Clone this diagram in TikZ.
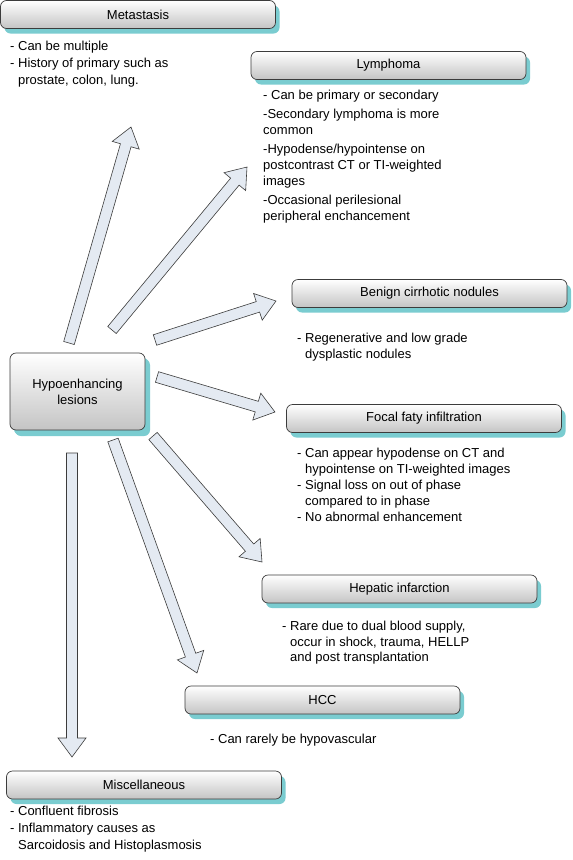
\documentclass[tikz,border=0pt]{standalone}
\usepackage{fontspec}
\setmainfont{Liberation Sans}
\usetikzlibrary{calc,shadows}
\definecolor{shteal}{RGB}{122,204,208}
\definecolor{arrfill}{RGB}{228,234,242}
\definecolor{boxline}{RGB}{60,60,60}
\definecolor{boxbot}{RGB}{196,196,196}
\newcommand{\blockarr}[3]{%
  \coordinate (#1-n) at ($(#3)!19pt!(#2)$);
  \draw[barrow] ($(#2)!5.5pt!90:(#3)$) -- ($(#1-n)!5.5pt!90:(#3)$) -- ($(#1-n)!14pt!90:(#3)$) -- (#3) -- ($(#1-n)!14pt!-90:(#3)$) -- ($(#1-n)!5.5pt!-90:(#3)$) -- ($(#2)!5.5pt!-90:(#3)$) -- cycle;}
\begin{document}
\begin{tikzpicture}[x=1pt,y=-1pt,
  font=\fontsize{13}{16}\selectfont,
  catbox/.style={draw=boxline, line width=0.7pt, rounded corners=6pt,
    top color=white, bottom color=boxbot, minimum width=275pt,
    minimum height=28pt, inner sep=0pt,
    drop shadow={shadow xshift=4pt, shadow yshift=-5pt, fill=shteal, opacity=1}},
  listtext/.style={anchor=north west, inner sep=0pt, align=left},
  barrow/.style={draw=boxline, line width=0.6pt, fill=arrfill, line join=miter}]
\fill[white] (0,0) rectangle (573,860);
\useasboundingbox (0,0) rectangle (573,860);

% central node
\node[catbox, minimum width=135pt, minimum height=77pt, align=center,
  drop shadow={shadow xshift=5pt, shadow yshift=-6pt, fill=shteal, opacity=1}]
  (hypo) at (77.5,391.5) {Hypoenhancing\\lesions};

% category boxes
\node[catbox] (meta) at (138,14.5) {Metastasis};
\node[catbox] (lymph) at (388.5,65.5) {Lymphoma};
\node[catbox] (benign) at (429.5,293.5) {Benign cirrhotic nodules};
\node[catbox] (focal) at (424,418.5) {Focal faty infiltration};
\node[catbox] (hep) at (399.5,589) {Hepatic infarction};
\node[catbox] (hcc) at (322.5,700) {HCC};
\node[catbox] (misc) at (144,785) {Miscellaneous};

% descriptions
\node[listtext, font=\fontsize{13}{16.7}\selectfont] (metat) at (10,41)
  {- Can be multiple\\- History of primary such as\\\phantom{- }prostate, colon, lung.};
\node[listtext] (lympht) at (263,90)
  {- Can be primary or secondary\\[3pt]-Secondary lymphoma is more\\common\\[3pt]-Hypodense/hypointense on\\postcontrast CT or TI-weighted\\images\\[3pt]-Occasional perilesional\\peripheral enchancement};
\node[listtext, font=\fontsize{13}{15.5}\selectfont] (benignt) at (297,333)
  {- Regenerative and low grade\\\phantom{- }dysplastic nodules};
\node[listtext] (focalt) at (297,448)
  {- Can appear hypodense on CT and\\\phantom{- }hypointense on TI-weighted images\\- Signal loss on out of phase\\\phantom{- }compared to in phase\\- No abnormal enhancement};
\node[listtext, font=\fontsize{13}{15.5}\selectfont] (hept) at (282,621)
  {- Rare due to dual blood supply,\\\phantom{- }occur in shock, trauma, HELLP\\\phantom{- }and post transplantation};
\node[listtext] (hcct) at (210,734) {- Can rarely be hypovascular};
\node[listtext, font=\fontsize{13}{17}\selectfont] (misct) at (10,806)
  {- Confluent fibrosis\\- Inflammatory causes as\\\phantom{- }Sarcoidosis and Histoplasmosis};

% arrow ends
\coordinate (t1) at (69,343);  \coordinate (h1) at (131,127);
\coordinate (t2) at (112,330); \coordinate (h2) at (247,167);
\coordinate (t3) at (155,340); \coordinate (h3) at (276,301);
\coordinate (t4) at (157,377); \coordinate (h4) at (275,412);
\coordinate (t5) at (153,436); \coordinate (h5) at (262,562);
\coordinate (t6) at (113,440); \coordinate (h6) at (197,673);
\coordinate (t7) at (72,453);  \coordinate (h7) at (72,757);

\blockarr{a1}{t1}{h1}
\blockarr{a2}{t2}{h2}
\blockarr{a3}{t3}{h3}
\blockarr{a4}{t4}{h4}
\blockarr{a5}{t5}{h5}
\blockarr{a6}{t6}{h6}
\blockarr{a7}{t7}{h7}
\end{tikzpicture}
\end{document}
